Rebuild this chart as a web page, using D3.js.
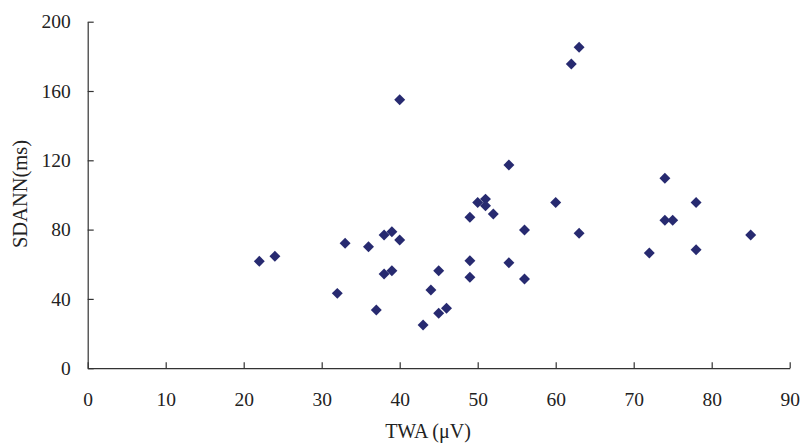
<!DOCTYPE html>
<html><head><meta charset="utf-8">
<script src="https://cdn.jsdelivr.net/npm/d3@7"></script>
<style>
html,body{margin:0;padding:0;background:#fff;}
svg{display:block;}
text{font-family:"Liberation Serif","Times New Roman",serif;fill:#222;}
</style></head>
<body>
<svg id="chart" width="802" height="446"></svg>
<script>
const twa = [22,24,32,33,36,37,38,39,40,38,39,40,44,45,43,45,46,49,49,49,54,56,56,63,62,63,54,50,51,51,52,60,74,78,74,75,72,78,85];
const sdann = [61.7,64.6,43.2,72.1,70.1,33.6,76.9,78.8,74,54.4,56.3,155,45.1,56.3,24.9,31.7,34.6,62,52.5,87.1,60.9,79.8,51.5,77.9,175.6,185.2,117.3,95.7,97.6,93.8,89,95.7,109.6,95.7,85.4,85.4,66.5,68.4,76.9];
const xTicks = [0,10,20,30,40,50,60,70,80,90];
const yTicks = [0,40,80,120,160,200];
const xTitle = "TWA (\u03bcV)";
const yTitle = "SDANN(ms)";

const svg = d3.select("#chart");
const x = d3.scaleLinear().domain([0,90]).range([87.7,789.7]);
const y = d3.scaleLinear().domain([0,200]).range([368.2,21.7]);
const axisColor = "#333";

const gx = svg.append("g").attr("transform","translate(0,368.2)")
  .call(d3.axisBottom(x).tickValues(xTicks).tickSize(-6).tickPadding(14).tickSizeOuter(0));
const gy = svg.append("g").attr("transform","translate(87.7,0)")
  .call(d3.axisLeft(y).tickValues(yTicks).tickSize(-6).tickPadding(17).tickSizeOuter(0));
[gx,gy].forEach(g=>{
  g.select(".domain").attr("stroke",axisColor).attr("stroke-width",1.2);
  g.selectAll(".tick line").attr("stroke",axisColor).attr("stroke-width",1.2);
  g.selectAll(".tick text").attr("font-size",19.5).attr("fill","#222")
    .attr("font-family","'Liberation Serif','Times New Roman',serif");
});
gx.selectAll(".tick text").attr("dy","0.71em").attr("y",23.5);
gy.selectAll(".tick text").attr("x",-17);

svg.append("text").attr("x",428).attr("y",438).attr("text-anchor","middle")
  .attr("font-size",20).text(xTitle);
svg.append("text").attr("transform","translate(27,194) rotate(-90)").attr("text-anchor","middle")
  .attr("font-size",20.5).text(yTitle);

const data = twa.map((v,i)=>({x:v,y:sdann[i]}));
const sym = d3.symbol().type(d3.symbolSquare).size(60);
svg.append("g").selectAll("path").data(data).join("path")
  .attr("d",sym)
  .attr("transform",d=>`translate(${x(d.x)},${y(d.y)}) rotate(45)`)
  .attr("fill","#272a70");
</script>
</body></html>
